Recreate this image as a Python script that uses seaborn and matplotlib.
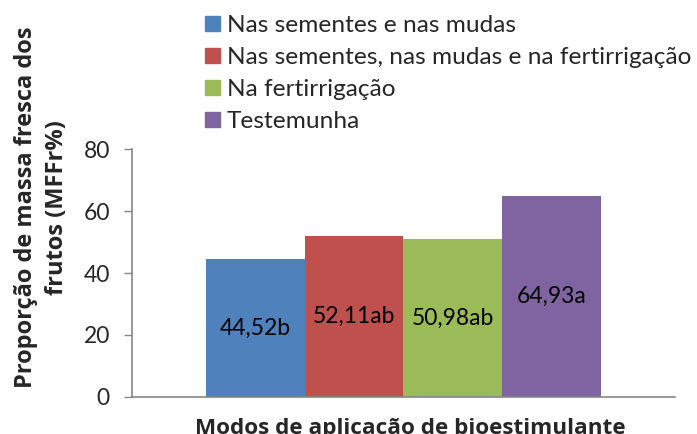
import pandas as pd
import matplotlib.pyplot as plt
import matplotlib.patches as mpatches
import seaborn as sns

# dados
modos = ["Nas sementes e nas mudas",
         "Nas sementes, nas mudas e na fertirrigação",
         "Na fertirrigação",
         "Testemunha"]
valores = [44.52, 52.11, 50.98, 64.93]
letras = ["b", "ab", "ab", "a"]
cores = ["#4F81BD", "#C0504D", "#9BBB59", "#8064A2"]
yticks = [0, 20, 40, 60, 80]

df = pd.DataFrame({"grupo": [""] * len(modos), "modo": modos, "valor": valores})

sns.set_style("white")
plt.rcParams['font.family'] = ['Lato', 'DejaVu Sans']

fig = plt.figure(figsize=(6.97, 4.34), dpi=100)
ax = fig.add_axes([0.1894, 0.0859, 0.779, 0.570])

sns.barplot(data=df, x="grupo", y="valor", hue="modo", hue_order=modos,
            palette=cores, width=0.727, saturation=1, legend=False, ax=ax,
            edgecolor="none", linewidth=0)

# rótulos no centro das barras
for cont, v, l in zip(ax.containers, valores, letras):
    txt = f"{v:.2f}".replace(".", ",") + l
    ax.bar_label(cont, labels=[txt], label_type="center", fontsize=16.5, color="black")

ax.set_ylim(0, 80)
ax.set_yticks(yticks)
ax.set_xlim(-0.5, 0.5)
ax.tick_params(axis="y", labelsize=16.5, length=6, width=1, color="#868686",
               direction="out", pad=10, left=True)
ax.tick_params(axis="x", bottom=False, labelbottom=False)
for lado in ["top", "right"]:
    ax.spines[lado].set_visible(False)
for lado in ["left", "bottom"]:
    ax.spines[lado].set_color("#868686")
    ax.spines[lado].set_linewidth(1.2)

ax.set_xlabel("")
ax.set_ylabel("")
fig.text(0.588, -0.012, "Modos de aplicação de bioestimulante", ha="center",
         va="bottom", fontsize=16.2, fontweight="bold", family=["Open Sans", "DejaVu Sans"])
fig.text(0.06, 0.522, "Proporção de massa fresca dos\nfrutos (MFFr%)", rotation=90,
         ha="center", va="center", multialignment="center", fontsize=17,
         fontweight="bold", linespacing=1.4, family=["Open Sans", "DejaVu Sans"])

handles = [mpatches.Patch(color=c, label=m) for c, m in zip(cores, modos)]
fig.legend(handles=handles, loc="upper left", bbox_to_anchor=(0.282, 0.985),
           frameon=False, fontsize=17.6, handlelength=0.6, handleheight=0.6,
           handletextpad=0.3, labelspacing=0.45, borderaxespad=0, borderpad=0.35)

plt.savefig("out.png", dpi=100)
